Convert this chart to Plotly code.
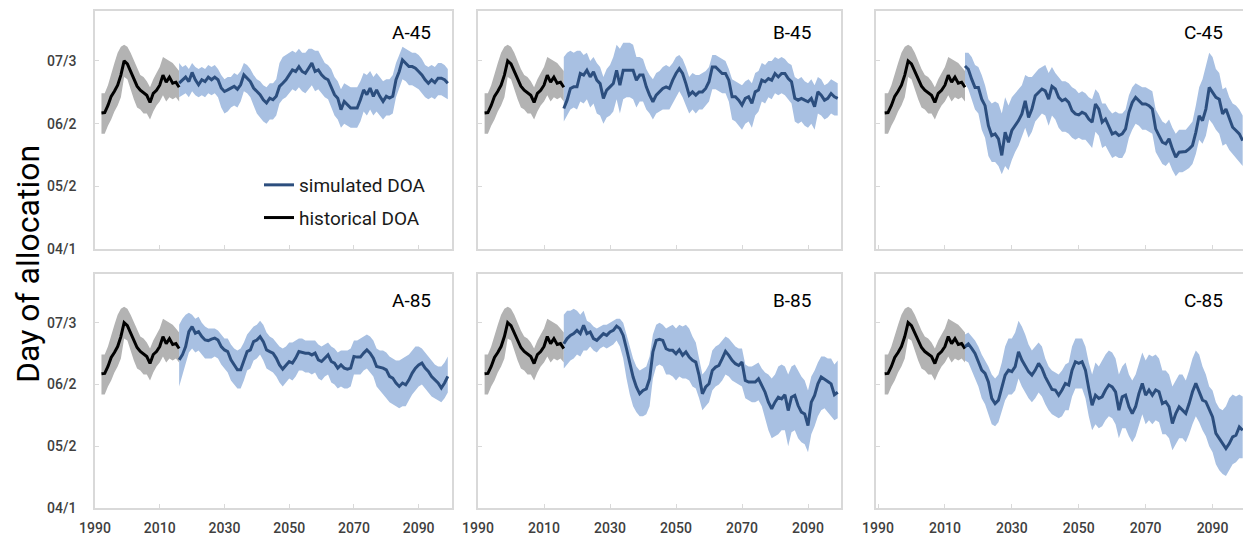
import plotly.graph_objects as go
from plotly.subplots import make_subplots

HIST_YEARS = list(range(1992, 2017))
HIST_MID = [158.3, 158.5, 162, 166.5, 169, 172, 177, 184, 182.5, 179, 175.5, 171.5, 169.5, 168, 167,
            163.5, 168, 169.5, 172, 177, 173.5, 176, 173, 173.5, 171]
HIST_HI = [168, 168, 172, 178, 183, 188, 191, 192, 191, 188, 184, 180, 177, 176, 174, 171, 175, 178,
           181, 186, 185, 184, 183, 181, 179]
HIST_LO = [148, 148, 152, 155, 159, 162, 166, 176, 175, 170, 165, 161, 160, 158, 158, 155, 159, 162,
           164, 167, 164, 166, 165, 166, 164]

SIM_YEARS = list(range(2016, 2100))

A45_MID = [173, 174.7, 176, 173.8, 178.3, 174.7, 172.2, 174.7, 173.8, 176, 174.7, 176, 174.7, 170.6, 168.9,
           169.7, 170.6, 171.4, 170, 172.2, 177.1, 175.5, 173.8, 170.6, 168.9, 167.3, 164.8, 163.2, 165.6,
           164.8, 166.5, 171.4, 173, 174.7, 177.1, 179.6, 178.8, 181.2, 178.8, 177.9, 180.4, 182.9, 178.8,
           179.6, 177.1, 175.5, 174.7, 171.4, 167.3, 165.6, 159.9, 164, 162.4, 160.7, 160.7, 160.7, 164.8,
           169.7, 167.3, 170.6, 166.5, 169.7, 166.5, 164, 166.5, 165.6, 166.5, 174.7, 178.8, 184.5, 182.9,
           181.2, 181.2, 180.4, 178.8, 177.1, 174.7, 173, 174.7, 173.3, 175.5, 175.5, 174.7, 173]
A45_HI = [183, 181, 182, 180, 183, 181, 180, 181, 180, 182, 181, 182, 180, 177, 175, 176, 176, 178, 177, 179,
          183, 182, 180, 177, 175, 174, 172, 171, 173, 173, 175, 183, 186, 187, 188, 189, 188, 190, 188, 188,
          190, 190, 189, 189, 186, 183, 182, 180, 176, 174, 170, 173, 172, 171, 171, 171, 174, 178, 177, 179,
          176, 178, 176, 174, 175, 175, 177, 183, 187, 191, 190, 189, 188, 188, 187, 185, 182, 181, 182, 181,
          183, 183, 182, 180]
A45_LO = [166, 167, 168, 166, 169, 167, 166, 167, 166, 168, 167, 168, 166, 161, 158, 159, 161, 162, 161, 164,
          169, 168, 166, 162, 158, 156, 154, 153, 155, 155, 157, 163, 165, 166, 168, 170, 169, 171, 169, 168,
          170, 172, 169, 170, 168, 166, 165, 161, 157, 155, 151, 153, 152, 151, 151, 151, 154, 159, 157, 160,
          157, 159, 157, 155, 157, 157, 158, 166, 170, 175, 174, 172, 172, 171, 170, 168, 166, 165, 166, 165,
          167, 167, 166, 165]

A85_MID = [165.3, 167.8, 172, 179.5, 182, 178.7, 179.5, 177, 175.3, 175, 175.7, 176.2, 175.3, 172, 170.3,
           169.5, 165.3, 162.8, 160.3, 160.3, 164.5, 169.5, 170.3, 174.5, 175.3, 177, 174.5, 170.3, 169.5,
           168.7, 166.2, 162.8, 160.7, 162.8, 164.5, 163.7, 166.2, 169.5, 169, 168.7, 168.7, 167.8, 168.7,
           165.3, 164.5, 166.2, 167.8, 164.5, 163.7, 161.2, 162.8, 161.2, 160.7, 161.2, 167, 166.7, 166.7,
           168.7, 170.3, 168.7, 166.2, 162, 161.7, 161.2, 160.3, 157, 156.2, 153.7, 152, 153.7, 152.8, 155.3,
           158.7, 161.2, 162.8, 163.7, 161.2, 159.5, 157, 155.3, 153.7, 151.2, 153.7, 157]
A85_HI = [183, 186, 188, 189, 188, 186, 187, 184, 182, 181, 181, 181, 180, 178, 176, 176, 173, 171, 170, 171,
          174, 178, 180, 182, 183, 185, 183, 179, 177, 176, 174, 172, 171, 172, 174, 174, 175, 176, 176, 175,
          175, 175, 175, 173, 172, 173, 174, 172, 171, 169, 170, 170, 170, 171, 175, 175, 176, 177, 178, 177,
          175, 171, 170, 170, 169, 167, 166, 165, 165, 166, 167, 168, 170, 172, 172, 171, 169, 167, 165, 163,
          162, 162, 164, 167]
A85_LO = [152, 158, 163, 169, 171, 169, 170, 168, 166, 166, 166, 167, 166, 163, 161, 159, 155, 153, 151, 151,
          155, 160, 161, 165, 166, 168, 165, 161, 160, 159, 157, 154, 152, 154, 156, 155, 157, 160, 160, 159,
          159, 158, 159, 156, 155, 157, 158, 154, 153, 151, 152, 151, 151, 152, 158, 158, 158, 160, 161, 159,
          157, 152, 150, 148, 146, 144, 143, 142, 141, 142, 142, 145, 148, 150, 152, 153, 151, 149, 147, 146,
          145, 144, 146, 149]

B45_MID = [160.5, 164.6, 170.4, 171.2, 171.2, 177.8, 177, 179.4, 176.1, 178.6, 174.5, 172.8, 165.5, 169.6,
           171.2, 172.8, 179.4, 172, 179.4, 179.4, 179.4, 179.4, 174.5, 177, 177, 171.2, 167.1, 163.8, 167.1,
           168.7, 170.4, 171.2, 170.4, 174.5, 177.8, 180.2, 177.8, 172.8, 167.1, 168.7, 167.1, 168.7, 168.7,
           170.4, 173.7, 181, 181, 179.4, 177.8, 177.8, 174.5, 166.3, 166.3, 164.6, 162.2, 165.5, 166.3, 163,
           168.7, 169.6, 174.5, 173.7, 175.3, 174.5, 177.8, 176.1, 177.8, 177.8, 175.3, 173.7, 165.5, 164.6,
           165.5, 164.6, 163.8, 165.5, 161.4, 168.7, 167.1, 164.6, 165.5, 167.9, 166.3, 165.5]
B45_HI = [186, 188, 189, 188, 189, 189, 187, 188, 184, 186, 183, 181, 176, 180, 182, 186, 192, 190, 193, 193,
          193, 192, 186, 186, 185, 180, 177, 175, 178, 179, 181, 182, 181, 183, 186, 187, 185, 181, 176, 178,
          177, 177, 178, 179, 181, 187, 187, 186, 185, 184, 180, 175, 174, 173, 172, 174, 175, 173, 178, 179,
          183, 182, 184, 184, 186, 185, 186, 185, 183, 182, 176, 175, 176, 174, 173, 175, 172, 176, 175, 172,
          173, 175, 174, 173]
B45_LO = [154, 157, 160, 161, 160, 164, 163, 165, 161, 163, 158, 157, 153, 156, 157, 159, 165, 158, 165, 166,
          166, 165, 161, 164, 164, 160, 158, 155, 158, 159, 160, 160, 160, 163, 166, 169, 166, 162, 158, 160,
          158, 160, 160, 162, 164, 170, 170, 169, 168, 168, 164, 155, 154, 152, 150, 153, 154, 151, 157, 159,
          164, 163, 166, 165, 168, 167, 168, 167, 165, 163, 154, 153, 154, 152, 151, 153, 150, 158, 157, 155,
          156, 158, 157, 157]

B85_MID = [173.4, 176, 177.6, 178.5, 180.1, 178.5, 182.7, 178.5, 179.3, 176, 175.1, 176.8, 178.5, 177.6,
           179.3, 180.1, 182.3, 181, 177.6, 170.9, 164.2, 156.7, 151.7, 148.3, 150, 150.8, 155.8, 169.3, 175.1,
           175.6, 175.1, 170.9, 170.1, 170.1, 168.4, 170.4, 167.6, 169.3, 166.7, 165.1, 164.2, 157.5, 148.3,
           151.7, 153.3, 160, 161.7, 162.5, 165.9, 169.6, 167.6, 165.1, 163.4, 162.5, 164.2, 155, 154.2, 154.2,
           154.2, 155.8, 152.5, 149.1, 144.1, 140.8, 144.1, 146.6, 145.8, 147.8, 139.9, 146.6, 147.5, 142.4,
           139.1, 138.2, 132.4, 144.1, 147.5, 153.3, 156.7, 155.8, 154.5, 153.3, 147.8, 149.1]
B85_HI = [188, 190, 190, 191, 190, 188, 190, 185, 184, 182, 181, 182, 183, 183, 184, 185, 186, 186, 184, 178,
          172, 166, 162, 160, 161, 162, 167, 178, 183, 184, 183, 181, 182, 183, 181, 183, 182, 183, 181, 177,
          174, 166, 158, 160, 163, 170, 172, 173, 175, 177, 176, 174, 172, 171, 171, 163, 162, 162, 163, 164,
          161, 159, 158, 156, 158, 162, 163, 162, 158, 162, 163, 160, 157, 155, 150, 157, 160, 164, 167, 167,
          166, 166, 163, 165]
B85_LO = [161, 163, 165, 166, 168, 167, 170, 170, 172, 170, 169, 171, 172, 171, 172, 173, 175, 172, 166, 156,
          148, 142, 139, 137, 137, 138, 142, 156, 162, 163, 162, 158, 158, 157, 155, 157, 156, 156, 155, 152,
          151, 146, 140, 142, 144, 150, 152, 153, 155, 158, 157, 155, 154, 153, 152, 146, 145, 144, 144, 145,
          142, 136, 130, 126, 127, 128, 130, 130, 122, 129, 130, 126, 124, 123, 119, 128, 132, 137, 140, 141,
          139, 137, 135, 136]

C45_MID = [181.5, 179.9, 175, 170.9, 170.9, 165.1, 161.9, 152, 147.1, 147.9, 145.5, 137.3, 148.7, 143.8,
           149.6, 152, 154.5, 157.8, 164.3, 156.1, 160.2, 166.8, 168.4, 170.1, 169.2, 165.1, 171.4, 170.1, 166,
           164.3, 165.1, 163.5, 159.4, 157.8, 157.3, 158.6, 157.8, 155.3, 153.7, 162.7, 160.2, 153.7, 155.3,
           151.2, 147.9, 148.7, 147.1, 147.9, 150.4, 158.6, 163.5, 166, 164.3, 162.7, 162.7, 161.9, 160.2,
           150.4, 147.1, 143.8, 143, 145.5, 140.5, 136.4, 138.9, 138.9, 139.2, 140.5, 142.2, 148.7, 156.9,
           154.5, 160.2, 170.9, 168.4, 166, 165.1, 157.8, 160.2, 155.3, 151.2, 149.6, 147.9, 144.6]
C45_HI = [188, 188, 186, 182, 181, 177, 172, 165, 163, 164, 163, 158, 166, 162, 166, 168, 170, 172, 177, 176,
          176, 178, 180, 181, 182, 178, 181, 178, 176, 174, 174, 173, 171, 170, 168, 169, 168, 166, 165, 170,
          168, 163, 163, 160, 158, 159, 158, 158, 160, 167, 171, 173, 172, 171, 171, 170, 169, 160, 157, 154,
          153, 155, 151, 148, 150, 150, 150, 152, 154, 162, 171, 175, 181, 188, 186, 180, 178, 170, 171, 166,
          163, 162, 160, 157]
C45_LO = [173, 170, 165, 160, 158, 150, 146, 137, 134, 134, 132, 128, 132, 130, 135, 139, 142, 146, 151, 146,
          149, 154, 156, 158, 157, 152, 157, 155, 151, 149, 149, 148, 146, 145, 146, 145, 145, 143, 141, 149,
          147, 141, 142, 139, 136, 137, 136, 136, 139, 146, 150, 153, 152, 150, 150, 149, 148, 139, 136, 133,
          132, 134, 130, 127, 129, 129, 130, 131, 133, 138, 145, 143, 147, 155, 153, 150, 148, 142, 143, 140,
          138, 136, 134, 132]

C85_MID = [171.9, 173.3, 171.1, 168.6, 164.4, 160.2, 158.5, 154.3, 146, 143.4, 145.1, 151, 157.7, 160.2,
           159.4, 161.9, 169.4, 165.2, 161.9, 159.4, 157.7, 160.2, 163.6, 161, 156.8, 153.5, 150.5, 150.2,
           147.6, 150.2, 153.5, 152.7, 160.2, 164.4, 163.6, 164.4, 160.2, 151, 142.6, 147.6, 146, 146.8, 150.2,
           152.7, 151.8, 149.3, 140.1, 146.8, 147.6, 141.8, 138.4, 141.8, 148.5, 153.5, 147.6, 150.2, 147.6,
           150.2, 149.3, 143.4, 144.3, 141.8, 133.4, 138.4, 141.8, 140.1, 138.4, 143.4, 149.3, 153.5, 149.3,
           145.1, 144.3, 140.1, 136.7, 128.4, 125.8, 123.3, 120.8, 123.3, 126.7, 127.5, 131.7, 130]
C85_HI = [178, 179, 177, 175, 172, 168, 165, 162, 158, 156, 158, 164, 172, 176, 176, 179, 185, 182, 178, 173,
          170, 172, 174, 172, 166, 162, 160, 159, 158, 160, 163, 164, 172, 176, 176, 176, 172, 164, 158, 164,
          162, 165, 168, 170, 169, 166, 158, 162, 164, 158, 155, 158, 164, 169, 165, 168, 167, 168, 166, 160,
          160, 158, 152, 155, 158, 158, 155, 160, 166, 170, 168, 162, 158, 152, 150, 144, 141, 140, 142, 146,
          148, 147, 148, 147]
C85_LO = [165, 164, 160, 156, 152, 146, 143, 138, 133, 132, 134, 139, 145, 148, 148, 150, 156, 152, 149, 146,
          144, 146, 149, 147, 143, 140, 138, 137, 136, 137, 140, 140, 147, 151, 151, 151, 146, 137, 130, 133,
          131, 132, 135, 137, 136, 133, 126, 131, 131, 127, 124, 127, 133, 138, 133, 135, 133, 135, 134, 128,
          128, 126, 120, 123, 126, 126, 124, 128, 133, 137, 134, 130, 127, 122, 119, 113, 110, 108, 107, 110,
          113, 114, 116, 116]

PANEL_LABELS = ["A-45", "B-45", "C-45", "A-85", "B-85", "C-85"]
SIM_MID = [A45_MID, B45_MID, C45_MID, A85_MID, B85_MID, C85_MID]
SIM_HI = [A45_HI, B45_HI, C45_HI, A85_HI, B85_HI, C85_HI]
SIM_LO = [A45_LO, B45_LO, C45_LO, A85_LO, B85_LO, C85_LO]

Y_TICKVALS = [91, 122, 153, 184]
Y_TICKTEXT = ["04/1", "05/2", "06/2", "07/3"]
X_TICKVALS = [1990, 2010, 2030, 2050, 2070, 2090]

W, H = 1243, 544
FONT = "Roboto"
GRAY_BAND = "#b3b3b3"
BLUE_BAND = "#a8c0e2"
BLUE_LINE = "#2c4e7e"
FRAME = "#d9d9d9"

fig = make_subplots(rows=2, cols=3)

col_px = [(95, 452), (478, 841), (876, 1243)]
row_px = [(11, 249), (274, 508)]
x_ranges = [[1990, 2100.3], [1990, 2100], [1989.4, 2099.1]]
y_ranges = [[91, 208.7], [91, 208.4]]
label_x = [0.947, 0.923, 0.951]
label_y = [0.908, 0.885]

for i in range(6):
    r, c = i // 3, i % 3
    row, col = r + 1, c + 1
    first = i == 0
    fig.add_trace(go.Scatter(x=HIST_YEARS + HIST_YEARS[::-1], y=HIST_HI + HIST_LO[::-1],
                             fill="toself", fillcolor=GRAY_BAND, line=dict(width=0),
                             mode="lines", showlegend=False, hoverinfo="skip"), row=row, col=col)
    fig.add_trace(go.Scatter(x=SIM_YEARS + SIM_YEARS[::-1], y=SIM_HI[i] + SIM_LO[i][::-1],
                             fill="toself", fillcolor=BLUE_BAND, line=dict(width=0),
                             mode="lines", showlegend=False, hoverinfo="skip"), row=row, col=col)
    fig.add_trace(go.Scatter(x=HIST_YEARS, y=HIST_MID, mode="lines", name="historical DOA",
                             line=dict(color="black", width=3), showlegend=first,
                             legendgroup="hist", legendrank=2), row=row, col=col)
    fig.add_trace(go.Scatter(x=SIM_YEARS, y=SIM_MID[i], mode="lines", name="simulated DOA",
                             line=dict(color=BLUE_LINE, width=3), showlegend=first,
                             legendgroup="sim", legendrank=1), row=row, col=col)

    xd = [col_px[c][0] / W, min(col_px[c][1] / W, 1.0)]
    yd = [1 - row_px[r][1] / H, 1 - row_px[r][0] / H]
    axis_common = dict(showline=True, mirror=True, linecolor=FRAME, linewidth=1.5,
                       showgrid=False, zeroline=False, ticks="inside", ticklen=4,
                       tickcolor=FRAME, tickwidth=1, automargin=False,
                       tickfont=dict(family=FONT, size=14, color="#404040", weight=500))
    fig.update_xaxes(domain=xd, range=x_ranges[c], tickvals=X_TICKVALS,
                     showticklabels=(r == 1), ticklabelstandoff=6, row=row, col=col, **axis_common)
    fig.update_yaxes(domain=yd, range=y_ranges[r], tickvals=Y_TICKVALS, ticktext=Y_TICKTEXT,
                     showticklabels=(c == 0), ticklabelstandoff=14, row=row, col=col, **axis_common)

    axn = "" if i == 0 else str(i + 1)
    fig.add_annotation(text=PANEL_LABELS[i], xref=f"x{axn} domain", yref=f"y{axn} domain",
                       x=label_x[c], y=label_y[r], xanchor="right", yanchor="middle",
                       showarrow=False, font=dict(family=FONT, size=19, color="black"))

fig.add_annotation(text="Day of allocation", xref="paper", yref="paper", x=28 / W, y=1 - 264 / H,
                   textangle=-90, showarrow=False, xanchor="center", yanchor="middle",
                   font=dict(family=FONT, size=32, color="black"))

fig.update_layout(
    width=W, height=H, margin=dict(l=0, r=0, t=0, b=0, autoexpand=False),
    paper_bgcolor="white", plot_bgcolor="white",
    showlegend=True,
    legend=dict(x=259 / W, y=1 - 166 / H, xanchor="left", yanchor="top",
                bgcolor="rgba(0,0,0,0)", traceorder="grouped", tracegroupgap=5,
                font=dict(family=FONT, size=19, color="#1a1a1a"), itemwidth=30),
)

fig.write_html("out.html")
